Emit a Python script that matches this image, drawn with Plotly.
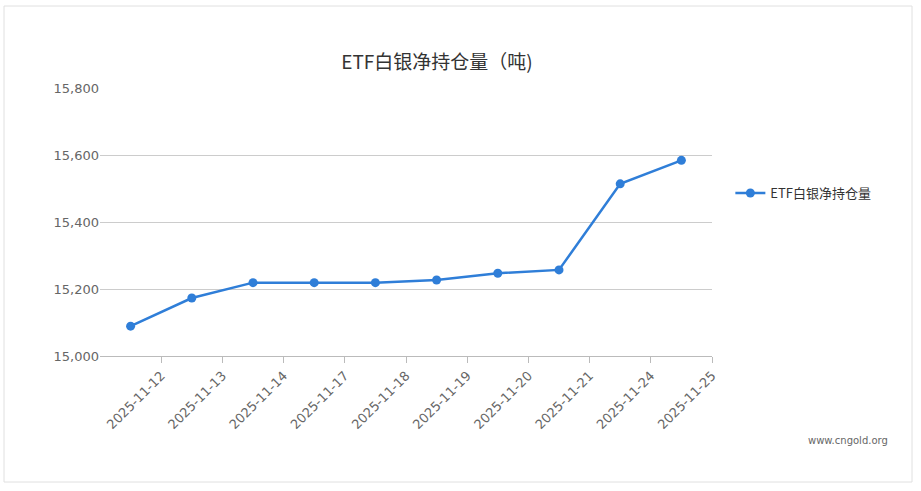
import plotly.graph_objects as go

dates = ["2025-11-12","2025-11-13","2025-11-14","2025-11-17","2025-11-18",
         "2025-11-19","2025-11-20","2025-11-21","2025-11-24","2025-11-25"]
values = [15089, 15173, 15219, 15219, 15219, 15227, 15247, 15257, 15514, 15584]
series_name = "ETF白银净持仓量"

xs = [i + 0.5 for i in range(len(dates))]
fig = go.Figure(go.Scatter(
    x=xs, y=values, mode="lines+markers", name=series_name,
    line=dict(color="#2f7ed8", width=2.5),
    marker=dict(size=9, color="#2f7ed8"),
))
font = "Noto Sans CJK SC, Noto Sans, sans-serif"
tickfont = dict(family="DejaVu Sans, sans-serif", size=13, color="#666")
fig.update_layout(
    width=921, height=491,
    margin=dict(l=100, r=209, t=88, b=135, autoexpand=False),
    paper_bgcolor="white", plot_bgcolor="white",
    font=dict(family=font, color="#666", size=13),
    title=dict(text="ETF白银净持仓量（吨)", x=(437-100)/612, xref="paper", xanchor="center",
               y=1-62/491, yanchor="middle", font=dict(size=19, color="#333")),
    showlegend=True,
    legend=dict(x=1.03, y=(356-193)/268, yanchor="middle", xanchor="left",
                font=dict(size=13, color="#333")),
    xaxis=dict(range=[0, len(dates)], tickmode="array", automargin=False,
               tickvals=[i + 1 for i in range(len(dates))], ticktext=dates,
               tickangle=-45, showgrid=False, zeroline=False,
               showline=True, linecolor="#bbb", ticks="outside", tickcolor="#bbb",
               ticklen=6, tickfont=tickfont),
    yaxis=dict(range=[15000, 15800], tickvals=[15000, 15200, 15400, 15600, 15800],
               tickformat=",", showgrid=True, gridcolor="#ccc", zeroline=False,
               automargin=False,
               showline=False, tickfont=tickfont, ticklen=0,
               ticks=""),
    shapes=[dict(type="rect", xref="paper", yref="paper",
                 x0=(4-100)/612, x1=(912-100)/612, y0=(356-482)/268, y1=(356-6)/268,
                 line=dict(color="#e0e0e0", width=1))],
    annotations=[dict(text="www.cngold.org", xref="paper", yref="paper",
                      x=(890-100)/612, y=(356-440)/268, xanchor="right", yanchor="middle",
                      showarrow=False, font=dict(family="DejaVu Sans, sans-serif", size=10, color="#666"))],
)
fig.write_html("out.html", config={"displayModeBar": False},
               post_script="document.body.style.margin='0';document.body.style.overflow='hidden';")
